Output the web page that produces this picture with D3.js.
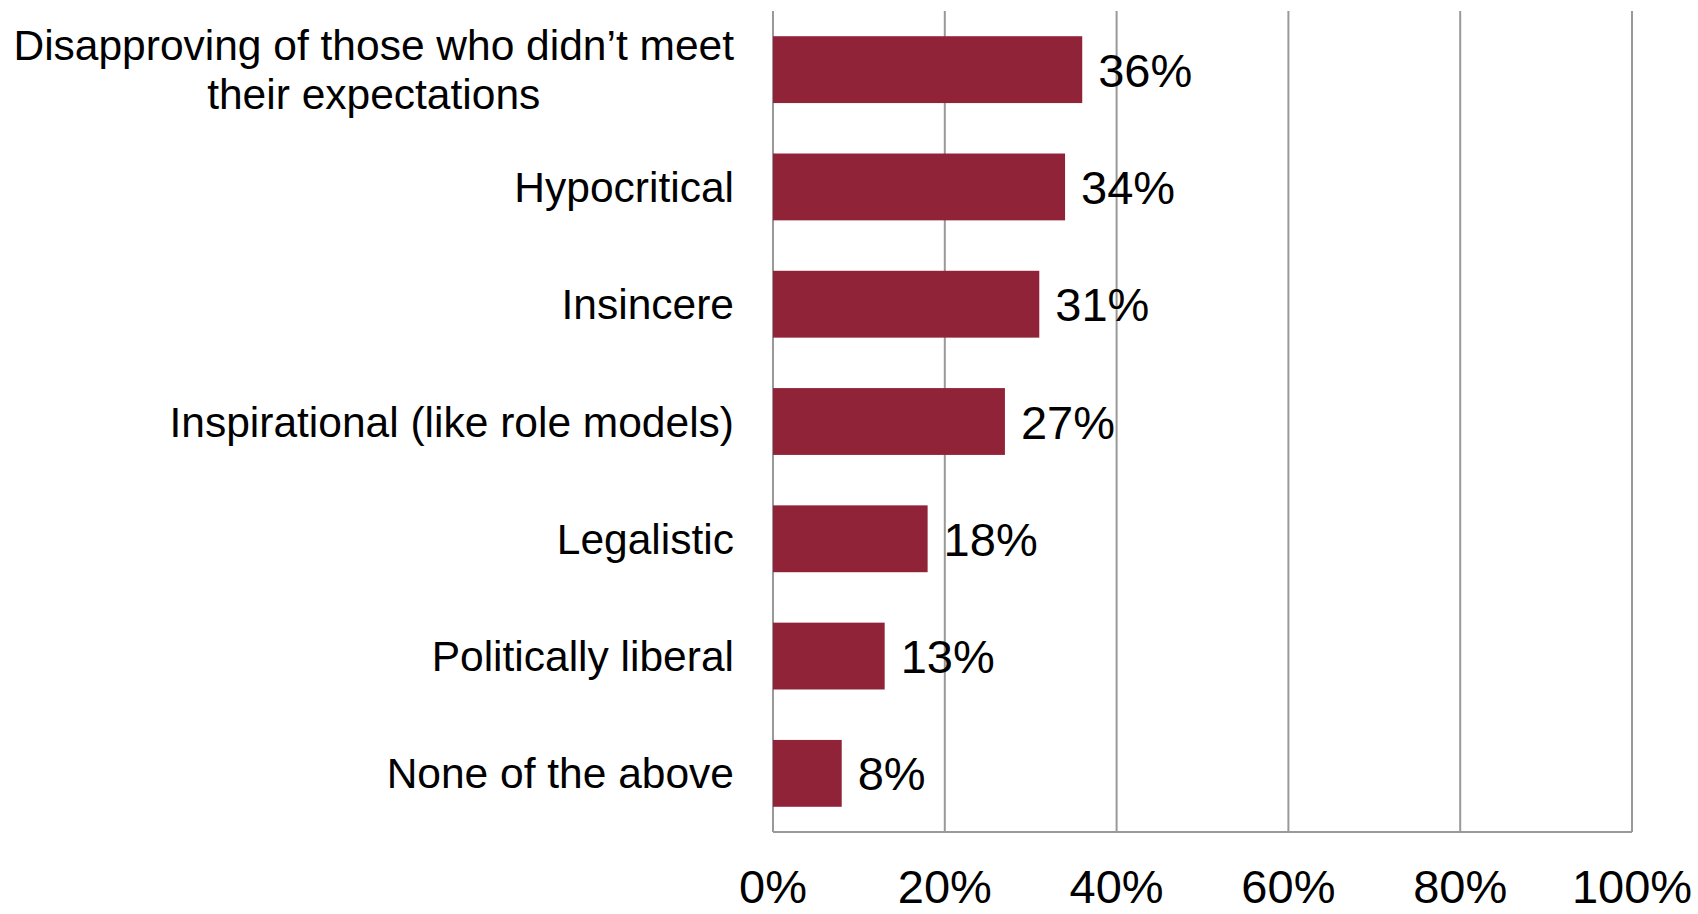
<!DOCTYPE html>
<html>
<head>
<meta charset="utf-8">
<script src="https://cdn.jsdelivr.net/npm/d3@7/dist/d3.min.js"></script>
<style>
  html, body { margin: 0; padding: 0; background: #fff; }
  svg { display: block; }
  text { font-family: "Liberation Sans", Arial, sans-serif; fill: #000; }
</style>
</head>
<body>
<svg id="chart" width="1698" height="914"></svg>
<script>
const categories = [
  ["Disapproving of those who didn\u2019t meet", "their expectations"],
  ["Hypocritical"],
  ["Insincere"],
  ["Inspirational (like role models)"],
  ["Legalistic"],
  ["Politically liberal"],
  ["None of the above"]
];
const values = [36, 34, 31, 27, 18, 13, 8];
const tickValues = [0, 20, 40, 60, 80, 100];
const tickLabels = ["0%", "20%", "40%", "60%", "80%", "100%"];

(function () {
const svg = d3.select("#chart");
const mLeft = 773, mRight = 1632, mTop = 11, mBottom = 832;

const x = d3.scaleLinear().domain([0, 100]).range([mLeft, mRight]);
const y = d3.scaleBand().domain(d3.range(categories.length)).range([mTop, mBottom]).paddingInner(0.43).paddingOuter(0.215);

// gridlines
svg.append("g").selectAll("line").data(tickValues).join("line")
  .attr("x1", d => x(d)).attr("x2", d => x(d))
  .attr("y1", mTop).attr("y2", mBottom)
  .attr("stroke", "#999").attr("stroke-width", 2);

// bottom axis line
svg.append("line").attr("x1", mLeft).attr("x2", mRight).attr("y1", mBottom).attr("y2", mBottom)
  .attr("stroke", "#999").attr("stroke-width", 2);

// tick labels
svg.append("g").selectAll("text").data(tickValues).join("text")
  .attr("x", d => x(d)).attr("y", 903)
  .attr("text-anchor", "middle")
  .style("font-size", "47px")
  .text((d, i) => tickLabels[i]);

// bars
svg.append("g").selectAll("rect").data(values).join("rect")
  .attr("x", x(0)).attr("y", (d, i) => y(i))
  .attr("width", d => x(d) - x(0)).attr("height", y.bandwidth())
  .attr("fill", "#912339");

// value labels
svg.append("g").selectAll("text").data(values).join("text")
  .attr("x", d => x(d) + 16)
  .attr("y", (d, i) => y(i) + y.bandwidth() / 2 + 17)
  .style("font-size", "47px")
  .text(d => d + "%");

// category labels
const labelRight = 734;
const lineH = 49;
categories.forEach((lines, i) => {
  const cy = y(i) + y.bandwidth() / 2;
  const g = svg.append("text").style("font-size", "42.5px");
  lines.forEach((ln, j) => {
    g.append("tspan").attr("y", cy + 15 + (j - (lines.length - 1) / 2) * lineH).text(ln);
  });
  const widths = g.selectAll("tspan").nodes().map(n => n.getComputedTextLength());
  const maxW = d3.max(widths);
  if (lines.length > 1) {
    g.attr("text-anchor", "middle");
    g.selectAll("tspan").attr("x", labelRight - maxW / 2);
  } else {
    g.attr("text-anchor", "end");
    g.selectAll("tspan").attr("x", labelRight);
  }
});
})();
</script>
</body>
</html>
